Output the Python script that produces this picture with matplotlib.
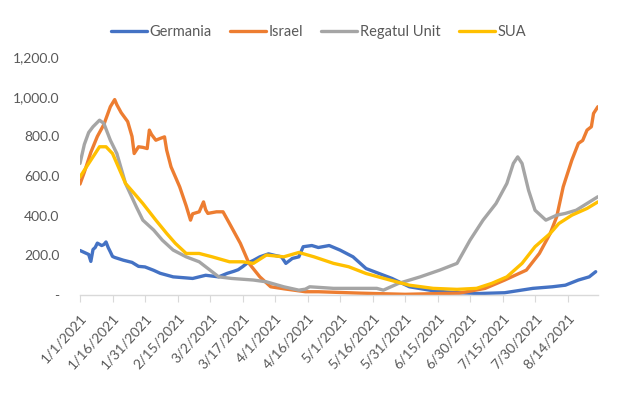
import matplotlib
matplotlib.use("Agg")
import matplotlib.pyplot as plt
import matplotlib.ticker as mticker
import pandas as pd

START = pd.Timestamp("2021-01-01")

# values (day offset from 1/1/2021, cases per million)
germania_days = [0, 3, 4, 5, 6, 7, 8, 10, 11, 12, 13, 14, 15, 16, 20, 24, 27, 30, 34, 37,
                 43, 52, 58, 64, 68, 71, 73, 75, 77, 80, 83, 87, 90, 93, 95, 98, 101, 103,
                 107, 110, 115, 120, 126, 132, 138, 144, 152, 163, 172, 184, 196, 209, 218,
                 224, 230, 235, 238]
germania_vals = [225, 210, 205, 170, 230, 240, 262, 250, 255, 268, 240, 218, 195, 190, 176,
                 165, 145, 142, 125, 110, 92, 84, 100, 92, 110, 120, 128, 143, 160, 175,
                 193, 208, 200, 193, 160, 185, 193, 244, 250, 240, 250, 227, 193, 134, 109,
                 84, 42, 22, 13, 8, 12, 34, 42, 50, 76, 92, 118]

israel_days = [0, 2, 5, 8, 11, 14, 16, 17, 19, 21, 22, 24, 25, 27, 29, 31, 32, 33, 35, 37,
               39, 40, 42, 46, 49, 51, 52, 55, 57, 58, 59, 63, 66, 69, 74, 78, 83, 88, 94,
               104, 110, 129, 150, 175, 187, 196, 206, 212, 217, 220, 223, 224, 227, 230,
               232, 234, 236, 237, 239]
israel_vals = [560, 620, 720, 800, 860, 950, 986, 960, 920, 890, 875, 800, 714, 748, 745,
               739, 832, 810, 781, 790, 798, 731, 647, 546, 450, 378, 410, 420, 470, 430,
               412, 420, 420, 361, 261, 160, 92, 42, 32, 17, 17, 10, 4, 10, 34, 76, 126,
               210, 311, 395, 546, 580, 681, 765, 780, 832, 849, 916, 950]

regatul_days = [0, 2, 4, 6, 9, 11, 14, 17, 21, 26, 29, 34, 38, 43, 49, 55, 60, 64, 70, 80,
                86, 94, 101, 104, 106, 117, 137, 140, 147, 157, 166, 174, 180, 186, 192,
                197, 200, 202, 204, 207, 210, 215, 220, 224, 229, 234, 239]
regatul_vals = [664, 760, 820, 849, 882, 866, 781, 714, 563, 445, 378, 328, 277, 227, 193,
                168, 126, 92, 84, 76, 67, 42, 25, 30, 42, 34, 34, 25, 59, 92, 126, 160, 277,
                378, 462, 563, 664, 697, 664, 529, 428, 378, 403, 412, 428, 462, 496]

sua_days = [0, 3, 7, 9, 12, 15, 17, 21, 25, 29, 35, 40, 44, 49, 55, 61, 69, 75, 80, 86,
            94, 101, 108, 117, 124, 132, 143, 152, 163, 174, 183, 190, 197, 204, 210, 217,
            221, 227, 234, 239]
sua_vals = [596, 647, 714, 748, 748, 714, 664, 563, 513, 462, 378, 311, 261, 210, 210, 193,
            168, 168, 160, 202, 193, 215, 193, 160, 143, 109, 76, 50, 34, 29, 34, 59, 92,
            160, 244, 311, 361, 403, 437, 470]

series = [
    ("Germania", germania_days, germania_vals, "#4472C4"),
    ("Israel", israel_days, israel_vals, "#ED7D31"),
    ("Regatul Unit", regatul_days, regatul_vals, "#A5A5A5"),
    ("SUA", sua_days, sua_vals, "#FFC000"),
]

tick_days = list(range(0, 226, 15))
y_ticks = [0, 200, 400, 600, 800, 1000, 1200]

plt.rcParams["font.family"] = ["Lato", "DejaVu Sans"]

fig = plt.figure(figsize=(6.3, 3.94), dpi=100)
ax = fig.add_axes([0.127, 0.251, 0.822, 0.604])

for name, days, vals, color in series:
    x = [START + pd.Timedelta(days=d) for d in days]
    ax.plot(x, vals, color=color, lw=2.4, label=name, solid_capstyle="round")

ax.set_xlim(START, START + pd.Timedelta(days=239))
ax.set_ylim(0, 1200)

tick_dates = [START + pd.Timedelta(days=d) for d in tick_days]
ax.set_xticks(tick_dates)
ax.set_xticklabels([f"{t.month}/{t.day}/{t.year}" for t in tick_dates],
                   rotation=48, ha="right", rotation_mode="anchor",
                   fontsize=10, color="#595959")
ax.set_yticks(y_ticks)
ax.yaxis.set_major_formatter(
    mticker.FuncFormatter(lambda v, _: "-" if v == 0 else f"{v:,.1f}"))
ax.tick_params(axis="y", length=0, labelsize=10, labelcolor="#595959", pad=15)
ax.tick_params(axis="x", length=5, color="#D9D9D9", direction="out", pad=7)

for side in ("top", "right", "left"):
    ax.spines[side].set_visible(False)
ax.spines["bottom"].set_color("#D9D9D9")
ax.spines["bottom"].set_linewidth(1.0)

fig.legend(loc="upper center", bbox_to_anchor=(0.505, 0.97), ncol=4, frameon=False,
           fontsize=10.5, handlelength=2.5, handletextpad=0.15, columnspacing=1.25,
           labelcolor="#595959")

fig.savefig("out.png", dpi=100)
